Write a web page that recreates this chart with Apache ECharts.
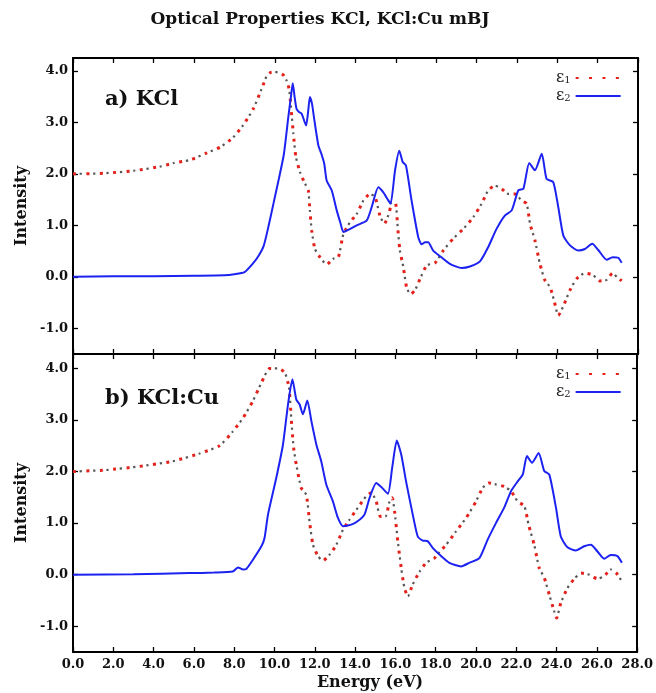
<!DOCTYPE html>
<html><head><meta charset="utf-8">
<script src="https://cdn.jsdelivr.net/npm/echarts@6/dist/echarts.min.js"></script>
<style>html,body{margin:0;padding:0;background:#fff}#c{width:656px;height:693px}</style>
</head><body><div id="c"></div>
<script>
const titleText = 'Optical Properties KCl, KCl:Cu mBJ';
const panelLabels = ['a) KCl', 'b) KCl:Cu'];
const axisNameY = 'Intensity';
const axisNameX = 'Energy (eV)';
const seriesNames = ['ε1', 'ε2'];
const xTicks = [0, 2, 4, 6, 8, 10, 12, 14, 16, 18, 20, 22, 24, 26, 28];
const yTicks = [-1, 0, 1, 2, 3, 4];

// a) KCl, epsilon_1
const kclEps1E = [0,1.5,3.0,4.3,5.0,5.8,6.6,7.3,7.94,8.44,8.93,9.35,9.6,9.8,10.0,10.42,10.6,10.72,10.84,10.92,11.05,11.28,11.5,11.66,11.74,11.83,11.99,12.24,12.57,12.9,13.15,13.4,13.73,14.06,14.39,14.72,14.97,15.21,15.43,15.68,15.79,15.99,16.09,16.2,16.37,16.53,16.73,16.95,17.2,17.53,17.94,18.35,18.84,19.34,19.84,20.25,20.58,20.91,21.24,21.57,21.9,22.23,22.48,22.65,22.89,23.14,23.39,23.64,23.84,24.05,24.3,24.63,24.96,25.37,25.78,26.11,26.45,26.74,26.97,27.19];
const kclEps1V = [2.0,2.01,2.06,2.14,2.21,2.27,2.4,2.52,2.71,2.95,3.26,3.65,3.9,3.97,3.98,3.92,3.8,3.62,3.13,2.78,2.32,2.0,1.81,1.68,1.29,0.9,0.54,0.38,0.24,0.35,0.38,0.83,1.06,1.22,1.48,1.61,1.55,1.19,1.03,1.26,1.45,1.42,0.97,0.51,0.19,-0.2,-0.34,-0.26,-0.04,0.22,0.27,0.51,0.74,0.93,1.16,1.42,1.68,1.77,1.71,1.61,1.61,1.48,1.42,1.03,0.71,0.25,-0.07,-0.2,-0.46,-0.75,-0.57,-0.26,-0.04,0.07,0.03,-0.08,-0.06,0.07,-0.01,-0.08];

// a) KCl, epsilon_2
const kclEps2E = [0,2,4,6,7.5,8.0,8.5,8.9,9.2,9.45,9.7,9.95,10.2,10.45,10.67,10.8,10.89,10.98,11.08,11.2,11.33,11.55,11.65,11.74,11.85,11.94,12.16,12.3,12.45,12.57,12.82,13.07,13.25,13.4,13.64,14.06,14.55,14.8,15.13,15.38,15.6,15.74,15.96,16.17,16.34,16.5,16.78,17.11,17.28,17.45,17.6,17.85,18.19,18.68,19.26,19.67,20.17,20.58,20.99,21.4,21.74,22.07,22.32,22.61,22.89,23.23,23.47,23.8,24.05,24.3,24.63,25.04,25.37,25.73,26.03,26.45,26.74,27.02,27.19];
const kclEps2V = [0.0,0.01,0.01,0.02,0.03,0.05,0.09,0.25,0.41,0.6,1.0,1.45,1.9,2.38,3.1,3.5,3.76,3.5,3.26,3.2,3.17,2.94,3.2,3.49,3.35,3.1,2.55,2.4,2.2,1.87,1.68,1.29,1.05,0.87,0.91,1.0,1.09,1.35,1.74,1.64,1.5,1.42,2.07,2.45,2.23,2.16,1.48,0.77,0.63,0.67,0.67,0.51,0.4,0.25,0.17,0.2,0.3,0.58,0.93,1.19,1.29,1.68,1.71,2.21,2.07,2.39,1.9,1.84,1.35,0.8,0.61,0.51,0.54,0.64,0.52,0.33,0.38,0.37,0.27];

// b) KCl:Cu, epsilon_1
const cuEps1E = [0,1.65,3.3,4.95,6.28,7.27,7.94,8.44,8.93,9.35,9.76,10.17,10.51,10.72,10.84,10.95,11.08,11.33,11.58,11.74,11.91,12.16,12.4,12.74,13.07,13.4,13.73,14.14,14.55,14.8,15.05,15.25,15.51,15.71,15.84,15.96,16.12,16.29,16.45,16.62,16.86,17.2,17.53,17.94,18.1,18.52,19.01,19.51,20.0,20.33,20.63,20.99,21.4,21.74,22.07,22.4,22.61,22.89,23.14,23.39,23.64,23.88,24.0,24.21,24.54,24.88,25.21,25.62,26.03,26.36,26.69,26.97,27.24];
const cuEps1V = [2.0,2.03,2.1,2.2,2.35,2.5,2.78,3.04,3.37,3.72,4.0,4.0,3.92,3.63,2.98,2.46,2.14,1.68,1.55,1.03,0.58,0.36,0.27,0.39,0.58,0.87,1.07,1.3,1.52,1.59,1.42,1.13,1.13,1.42,1.49,1.23,0.65,0.13,-0.26,-0.42,-0.19,0.06,0.23,0.32,0.4,0.58,0.84,1.1,1.42,1.68,1.78,1.75,1.71,1.62,1.42,1.33,0.97,0.58,0.13,-0.06,-0.39,-0.71,-0.84,-0.55,-0.26,-0.08,0.03,0.0,-0.08,-0.03,0.1,0.03,-0.13];

// b) KCl:Cu, epsilon_2
const cuEps2E = [0,3,5.78,7.0,7.93,8.19,8.44,8.6,8.93,9.35,9.5,9.68,10.09,10.42,10.67,10.89,11.08,11.25,11.41,11.63,11.83,12.08,12.32,12.57,12.9,13.15,13.4,13.81,14.14,14.47,14.72,15.05,15.3,15.63,15.84,16.07,16.29,16.53,16.86,17.11,17.36,17.6,17.85,18.19,18.68,19.26,19.67,20.17,20.58,20.99,21.4,21.74,22.07,22.32,22.53,22.78,23.11,23.39,23.64,23.97,24.21,24.54,24.96,25.37,25.7,26.03,26.36,26.69,27.02,27.24];
const cuEps2V = [0.0,0.01,0.03,0.04,0.06,0.14,0.1,0.11,0.29,0.55,0.7,1.17,1.88,2.52,3.3,3.79,3.4,3.3,3.11,3.38,2.98,2.52,2.2,1.75,1.42,1.1,0.94,0.97,1.04,1.17,1.49,1.78,1.7,1.57,2.07,2.6,2.33,1.81,1.17,0.74,0.66,0.65,0.52,0.39,0.23,0.16,0.23,0.32,0.68,1.0,1.3,1.62,1.81,1.94,2.3,2.17,2.36,2.01,1.94,1.3,0.74,0.53,0.47,0.55,0.58,0.45,0.31,0.38,0.36,0.23];

const pairs = (xs, ys) => xs.map((x, i) => [x, ys[i]]);
const FONT = 'DejaVu Serif';
const RED = '#e3221c';
const BLUE = '#1c22f0';
const DARK = '#555555';

const grids = [
  { left: 73, top: 58, width: 565, height: 296 },
  { left: 73, top: 354, width: 565, height: 298 }
];
const yRanges = [[-1.5, 4.25], [-1.5, 4.28]];

const xAxes = [], yAxes = [];
grids.forEach((g, gi) => {
  const showLab = gi === 1;
  ['bottom', 'top'].forEach(pos => {
    xAxes.push({
      type: 'value', gridIndex: gi, position: pos, min: 0, max: 28, interval: 2,
      axisLine: { show: true, onZero: false, lineStyle: { color: '#000', width: 2 } },
      axisTick: { show: true, inside: true, length: 5, lineStyle: { color: '#000', width: 1.3 } },
      axisLabel: {
        show: showLab && pos === 'bottom', margin: 6, color: '#111',
        fontFamily: FONT, fontWeight: 'bold', fontSize: 13,
        formatter: v => v.toFixed(1)
      },
      splitLine: { show: false }
    });
  });
  ['left', 'right'].forEach(pos => {
    yAxes.push({
      type: 'value', gridIndex: gi, position: pos, min: yRanges[gi][0], max: yRanges[gi][1],
      axisLine: { show: true, onZero: false, lineStyle: { color: '#000', width: 2 } },
      axisTick: { show: true, inside: true, length: 5, customValues: yTicks, lineStyle: { color: '#000', width: 1.3 } },
      axisLabel: {
        show: pos === 'left', margin: 5, customValues: yTicks, color: '#111',
        fontFamily: FONT, fontWeight: 'bold', fontSize: 13,
        formatter: v => v.toFixed(1)
      },
      splitLine: { show: false }
    });
  });
});

const curves = [
  [pairs(kclEps1E, kclEps1V), pairs(kclEps2E, kclEps2V)],
  [pairs(cuEps1E, cuEps1V), pairs(cuEps2E, cuEps2V)]
];
const series = [];
curves.forEach((c, gi) => {
  series.push({
    name: seriesNames[0], type: 'line', xAxisIndex: gi * 2, yAxisIndex: gi * 2,
    data: c[0], showSymbol: false, symbol: 'none', smooth: 0.2, z: 4,
    lineStyle: { color: RED, width: 3, type: [3, 10.4], cap: 'butt' }, itemStyle: { color: RED }
  });
  series.push({
    name: '_dark' + gi, type: 'line', xAxisIndex: gi * 2, yAxisIndex: gi * 2,
    data: c[0], showSymbol: false, symbol: 'none', smooth: 0.2, z: 3,
    lineStyle: { color: DARK, width: 2.2, type: [2.2, 11.2], dashOffset: -6.7, cap: 'butt' }
  });
  series.push({
    name: seriesNames[1], type: 'line', xAxisIndex: gi * 2, yAxisIndex: gi * 2,
    data: c[1], showSymbol: false, symbol: 'none', smooth: 0.2, z: 5,
    lineStyle: { color: BLUE, width: 2 }, itemStyle: { color: BLUE }
  });
});

const legendTops = [65, 361];
const legends = legendTops.map(t => ({
  data: seriesNames, orient: 'vertical', left: 551, top: t, align: 'right',
  itemWidth: 45, itemHeight: 10, itemGap: 2, selectedMode: false,
  itemStyle: { opacity: 0 },
  formatter: n => '{e|ε}{s|' + n.slice(1) + '}',
  textStyle: {
    color: '#222',
    rich: {
      e: { fontFamily: FONT, fontSize: 16, lineHeight: 14, color: '#222' },
      s: { fontFamily: FONT, fontSize: 10, lineHeight: 8, verticalAlign: 'bottom', color: '#222' }
    }
  }
}));

const txt = (text, x, y, size, opts) => Object.assign({
  type: 'text', x: x, y: y,
  style: { text: text, fontFamily: FONT, fontWeight: 'bold', fontSize: size, fill: '#111',
           textAlign: 'center', textVerticalAlign: 'middle' }
}, opts || {});

const graphic = [
  txt(titleText, 320, 20, 17),
  txt(axisNameY, 22, 206, 16, { rotation: Math.PI / 2 }),
  txt(axisNameY, 22, 503, 16, { rotation: Math.PI / 2 }),
  txt(axisNameX, 370, 683, 16),
  { type: 'text', x: 105, y: 100, style: { text: panelLabels[0], fontFamily: FONT, fontWeight: 'bold', fontSize: 21, fill: '#111', textAlign: 'left', textVerticalAlign: 'middle' } },
  { type: 'text', x: 105, y: 399, style: { text: panelLabels[1], fontFamily: FONT, fontWeight: 'bold', fontSize: 21, fill: '#111', textAlign: 'left', textVerticalAlign: 'middle' } }
];

const chart = echarts.init(document.getElementById('c'), null, { renderer: 'canvas' });
chart.setOption({
  animation: false,
  backgroundColor: '#fff',
  grid: grids,
  xAxis: xAxes,
  yAxis: yAxes,
  legend: legends,
  series: series,
  graphic: graphic
});
</script></body></html>
